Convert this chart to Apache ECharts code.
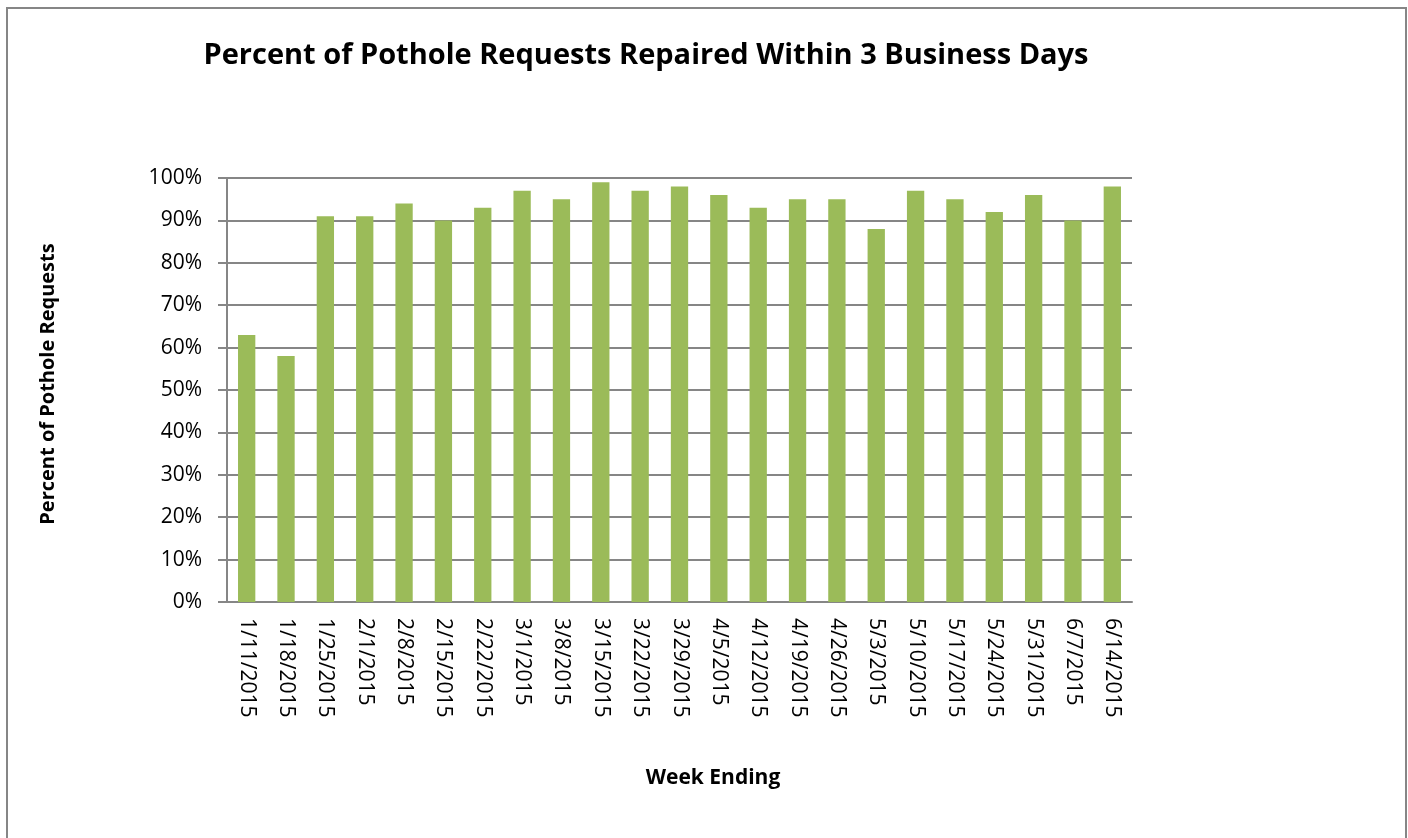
<!DOCTYPE html>
<html>
<head>
<meta charset="utf-8">
<script src="https://cdn.jsdelivr.net/npm/echarts@6/dist/echarts.min.js"></script>
<style>
  html, body { margin: 0; padding: 0; background: #fff; }
  #chart { width: 1408px; height: 838px; }
</style>
</head>
<body>
<div id="chart"></div>
<script>
// week ending dates
const weeks = ['1/11/2015', '1/18/2015', '1/25/2015', '2/1/2015', '2/8/2015', '2/15/2015',
  '2/22/2015', '3/1/2015', '3/8/2015', '3/15/2015', '3/22/2015', '3/29/2015', '4/5/2015',
  '4/12/2015', '4/19/2015', '4/26/2015', '5/3/2015', '5/10/2015', '5/17/2015', '5/24/2015',
  '5/31/2015', '6/7/2015', '6/14/2015']
// percent repaired within 3 business days
const pctRepaired = [0.63, 0.58, 0.91, 0.91, 0.94, 0.90, 0.93, 0.97, 0.95, 0.99, 0.97, 0.98,
  0.96, 0.93, 0.95, 0.95, 0.88, 0.97, 0.95, 0.92, 0.96, 0.90, 0.98]

const titleText = 'Percent of Pothole Requests Repaired Within 3 Business Days'
const yTitle = 'Percent of Pothole Requests'
const xTitle = 'Week Ending'

const font = '"Open Sans", sans-serif'
const lineColor = '#868686'

let chart = echarts.init(document.getElementById('chart'))
chart.setOption({
  animation: false,
  textStyle: { fontFamily: font },
  grid: { left: 227, right: 276, top: 178, bottom: 236 },
  graphic: [
    {
      type: 'rect',
      shape: { x: 7, y: 8, width: 1399, height: 840 },
      style: { fill: 'none', stroke: lineColor, lineWidth: 2 }
    },
    {
      type: 'text', x: 646, y: 56,
      style: { text: titleText, font: 'bold 29px ' + font, fill: '#000', align: 'center', verticalAlign: 'middle' }
    },
    {
      type: 'text', x: 48, y: 384, rotation: Math.PI / 2,
      style: { text: yTitle, font: 'bold 20px ' + font, fill: '#000', align: 'center', verticalAlign: 'middle' }
    },
    {
      type: 'text', x: 713, y: 778,
      style: { text: xTitle, font: 'bold 21px ' + font, fill: '#000', align: 'center', verticalAlign: 'middle' }
    }
  ],
  xAxis: {
    type: 'category',
    data: weeks,
    axisLine: { lineStyle: { color: lineColor, width: 2 } },
    axisTick: { show: false },
    axisLabel: { rotate: -90, margin: 16, fontSize: 21, color: '#000', interval: 0 }
  },
  yAxis: {
    type: 'value',
    min: 0,
    max: 1,
    interval: 0.1,
    axisLine: { show: true, lineStyle: { color: lineColor, width: 2 } },
    axisTick: { show: true, length: 9, lineStyle: { color: lineColor, width: 2 } },
    splitLine: { lineStyle: { color: lineColor, width: 2 } },
    axisLabel: {
      margin: 25, fontSize: 21, color: '#000',
      formatter: v => Math.round(v * 100) + '%'
    }
  },
  series: [{
    type: 'bar',
    data: pctRepaired,
    barWidth: '44%',
    itemStyle: { color: '#9BBB59' }
  }]
})
</script>
</body>
</html>
